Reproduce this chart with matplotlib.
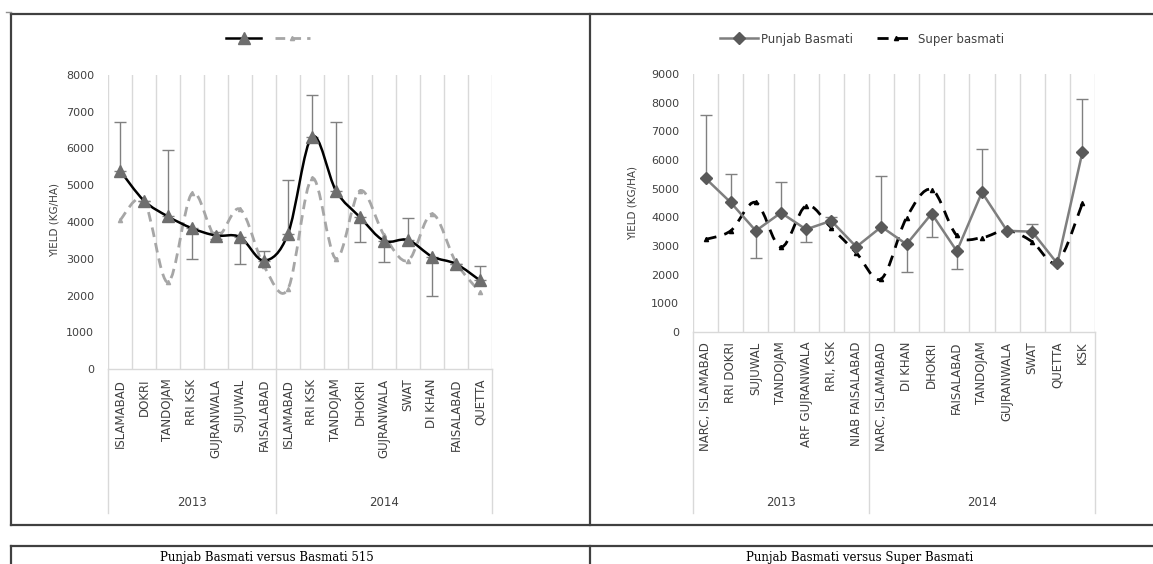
import numpy as np
import matplotlib
matplotlib.use('Agg')
import matplotlib.pyplot as plt
from matplotlib.path import Path
from matplotlib.patches import PathPatch
from matplotlib.lines import Line2D
import matplotlib.transforms as mtransforms

plt.rcParams['font.family'] = ['DejaVu Sans']

W, H = 1153, 564

# ---- left chart: Punjab Basmati vs Basmati 515 ----
left_cats = ['ISLAMABAD', 'DOKRI', 'TANDOJAM', 'RRI KSK', 'GUJRANWALA', 'SUJUWAL', 'FAISALABAD',
             'ISLAMABAD', 'RRI KSK', 'TANDOJAM', 'DHOKRI', 'GUJRANWALA', 'SWAT', 'DI KHAN',
             'FAISALABAD', 'QUETTA']
left_punjab = [5400, 4580, 4150, 3830, 3630, 3590, 2950, 3680, 6320, 4850, 4130, 3490, 3510, 3060, 2860, 2410]
left_err_up = [1330, 0, 1815, 0, 100, 0, 270, 1475, 1140, 1880, 0, 0, 600, 0, 0, 390]
left_err_dn = [0, 0, 0, 835, 100, 745, 0, 0, 0, 0, 665, 590, 0, 1060, 0, 0]
left_b515 = [4050, 4580, 2360, 4780, 3600, 4350, 2800, 2180, 5190, 3000, 4850, 3650, 2950, 4220, 2900, 2090]

# ---- right chart: Punjab Basmati vs Super Basmati ----
right_cats = ['NARC, ISLAMABAD', 'RRI DOKRI', 'SUJUWAL', 'TANDOJAM', 'ARF GUJRANWALA', 'RRI, KSK',
              'NIAB FAISALABAD', 'NARC, ISLAMABAD', 'DI KHAN', 'DHOKRI', 'FAISALABAD', 'TANDOJAM',
              'GUJRANWALA', 'SWAT', 'QUETTA', 'KSK']
right_punjab = [5360, 4520, 3530, 4160, 3580, 3880, 2970, 3670, 3060, 4130, 2820, 4870, 3530, 3500, 2390, 6280]
right_err_up = [2205, 995, 0, 1090, 0, 140, 0, 1770, 0, 0, 0, 1500, 0, 280, 0, 1850]
right_err_dn = [0, 0, 960, 0, 445, 0, 0, 0, 960, 820, 620, 0, 0, 0, 0, 0]
right_super = [3230, 3530, 4520, 2960, 4400, 3640, 2760, 1860, 3990, 4970, 3370, 3290, 3550, 3150, 2440, 4490]

years = ['2013', '2014']
n2013 = 7

captions = ['Punjab Basmati versus Basmati 515', 'Punjab Basmati versus Super Basmati']


def fx(px):
    return px / W


def fy(py):
    return 1 - py / H


def smooth_path(xs, ys):
    # Excel style smoothed line: catmull-rom segments as cubic beziers
    pts = np.column_stack([xs, ys]).astype(float)
    n = len(pts)
    verts = [pts[0]]
    codes = [Path.MOVETO]
    for i in range(n - 1):
        p0 = pts[i - 1] if i > 0 else pts[i]
        p1 = pts[i]
        p2 = pts[i + 1]
        p3 = pts[i + 2] if i + 2 < n else pts[i + 1]
        c1 = p1 + (p2 - p0) / 6.0
        c2 = p2 - (p3 - p1) / 6.0
        verts += [c1, c2, p2]
        codes += [Path.CURVE4] * 3
    return Path(verts, codes)


def setup_axes(ax, cats, ymax, ylab_x, ylab_y, pad_lab):
    x = np.arange(len(cats))
    ax.set_xlim(-0.5, len(cats) - 0.5)
    ax.set_ylim(0, ymax)
    ax.set_yticks(np.arange(0, ymax + 1, 1000))
    ax.set_xticks(x)
    ax.set_xticklabels(cats, rotation=90, fontsize=8.5, color='#404040')
    ax.set_xticks(np.arange(-0.5, len(cats), 1), minor=True)
    ax.tick_params(axis='x', which='both', length=0, pad=pad_lab)
    ax.tick_params(axis='y', length=0, pad=10, labelsize=8, labelcolor='#404040')
    ax.grid(True, axis='x', which='minor', color='#D9D9D9', lw=1)
    for s in ['top', 'right', 'left']:
        ax.spines[s].set_visible(False)
    ax.spines['bottom'].set_color('#D9D9D9')
    ax.spines['bottom'].set_linewidth(1)
    fig.text(fx(ylab_x), fy(ylab_y), 'YIELD (KG/HA)', rotation=90, ha='center', va='center',
             fontsize=7.5, color='#404040')
    # year group labels and separators
    trans = mtransforms.blended_transform_factory(ax.transData, fig.transFigure)
    n = len(cats)
    ax.text((n2013 - 1) / 2, fy(502), years[0], transform=trans, ha='center', va='center',
            fontsize=8.5, color='#404040')
    ax.text((n2013 + n - 1) / 2, fy(502), years[1], transform=trans, ha='center', va='center',
            fontsize=8.5, color='#404040')
    bottom = ax.get_position().y0
    for xs in [-0.5, n2013 - 0.5, n - 0.5]:
        ax.add_line(Line2D([xs, xs], [fy(513), bottom], transform=trans, color='#D9D9D9',
                           lw=1, clip_on=False))
    return x


fig = plt.figure(figsize=(W / 100, H / 100), dpi=100)

# panel borders
bc = '#404040'
for (x0, y0, x1, y1) in [(11, 14, 1153, 14), (11, 14, 11, 525), (11, 525, 1153, 525), (590, 14, 590, 525),
                         (11, 546, 1153, 546), (11, 546, 11, 564), (590, 546, 590, 564)]:
    fig.add_artist(Line2D([fx(x0), fx(x1)], [fy(y0), fy(y1)], color=bc, lw=1.6))
fig.add_artist(Line2D([fx(6), fx(11)], [fy(12), fy(12)], color='#909090', lw=1))

# left chart
ax1 = fig.add_axes([fx(108), fy(369), fx(492) - fx(108), fy(75) - fy(369)])
x1 = setup_axes(ax1, left_cats, 8000, 55, 220, 7)
ax1.errorbar(x1, left_punjab, yerr=[left_err_dn, left_err_up], fmt='none', ecolor='#808080',
             elinewidth=1, capsize=4, capthick=1, zorder=2)
ax1.add_patch(PathPatch(smooth_path(x1, left_b515), fill=False, edgecolor='#A6A6A6', lw=2.0,
                        linestyle=(0, (3.5, 2.2)), zorder=3))
ax1.plot(x1, left_b515, ls='none', marker='^', ms=3, color='#A6A6A6', zorder=3)
ax1.add_patch(PathPatch(smooth_path(x1, left_punjab), fill=False, edgecolor='#000000', lw=1.8, zorder=4))
ax1.plot(x1, left_punjab, ls='none', marker='^', ms=8, color='#6E6E6E', zorder=5)
h1 = Line2D([], [], color='#000000', lw=1.8, marker='^', ms=8, mfc='#6E6E6E', mec='#6E6E6E')
h2 = Line2D([], [], color='#A6A6A6', lw=2.0, ls=(0, (3.5, 2.2)), marker='^', ms=3)
ax1.legend([h1, h2], ['', ''], ncol=2, frameon=False, loc='center', handlelength=3.2,
           handletextpad=0, columnspacing=1.2, bbox_to_anchor=(fx(268), fy(39)),
           bbox_transform=fig.transFigure, fontsize=8)

# right chart
ax2 = fig.add_axes([fx(693), fy(332), fx(1095) - fx(693), fy(74) - fy(332)])
x2 = setup_axes(ax2, right_cats, 9000, 633, 203, 7)
ax2.errorbar(x2, right_punjab, yerr=[right_err_dn, right_err_up], fmt='none', ecolor='#808080',
             elinewidth=1, capsize=4, capthick=1, zorder=2)
ax2.add_patch(PathPatch(smooth_path(x2, right_super), fill=False, edgecolor='#000000', lw=2.0,
                        linestyle=(0, (4, 3)), zorder=3))
ax2.plot(x2, right_super, ls='none', marker='^', ms=3, color='#000000', zorder=3)
ax2.plot(x2, right_punjab, color='#7F7F7F', lw=1.8, marker='D', ms=6.5, mfc='#595959', mec='#595959', zorder=4)
h3 = Line2D([], [], color='#7F7F7F', lw=1.8, marker='D', ms=6, mfc='#595959', mec='#595959')
h4 = Line2D([], [], color='#000000', lw=2.0, ls=(0, (4, 3)), marker='^', ms=3)
ax2.legend([h3, h4], ['Punjab Basmati', 'Super basmati'], ncol=2, frameon=False, loc='center',
           handlelength=3.2, handletextpad=0.3, columnspacing=2.0, bbox_to_anchor=(fx(862), fy(39)),
           bbox_transform=fig.transFigure, fontsize=8.5, labelcolor='#404040')

# captions below
fig.text(fx(267), fy(557), captions[0], ha='center', va='center', fontsize=8.5, family='DejaVu Serif')
fig.text(fx(860), fy(557), captions[1], ha='center', va='center', fontsize=8.5, family='DejaVu Serif')

fig.savefig('out.png', dpi=100)
